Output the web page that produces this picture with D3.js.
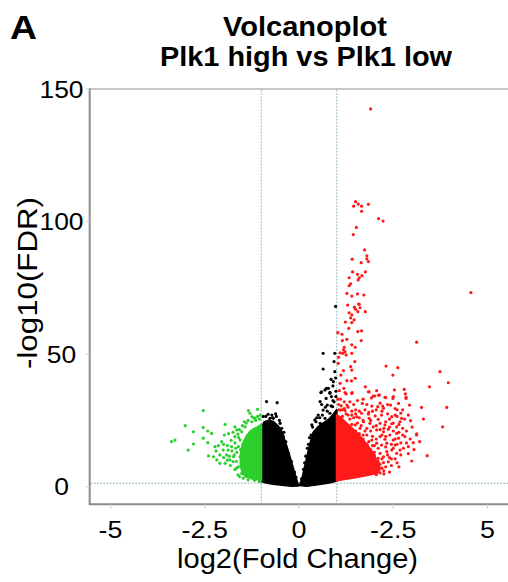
<!DOCTYPE html>
<html>
<head>
<meta charset="utf-8">
<script src="https://cdn.jsdelivr.net/npm/d3@7/dist/d3.min.js"></script>
<style>
html,body{margin:0;padding:0;background:#fff;}
svg{display:block;}
text{font-family:"Liberation Sans",Arial,Helvetica,sans-serif;fill:#000;}
</style>
</head>
<body>
<div id="chart"></div>
<script>
// ---------- DATA ----------
const panelLabel = "A";
const titleLines = ["Volcanoplot", "Plk1 high vs Plk1 low"];
const xAxisTitle = "log2(Fold Change)";
const yAxisTitle = "-log10(FDR)";
const xTicks = [-5, -2.5, 0, 2.5, 5];
const xTickLabels = ["-5", "-2.5", "0", "-2.5", "5"];
const yTicks = [0, 50, 100, 150];
const yTickLabels = ["0", "50", "100", "150"];
const fcCutoffs = [-1, 1];
const fdrCutoff = 1.3;

// dense (saturated) regions of the point cloud, as [log2FC, -log10FDR] outlines
const blackCoreLeft = [[-1.0,2.0],[-1.0,22],[-0.93,24.3],[-0.8,25],[-0.68,24.5],[-0.55,22.8],[-0.45,20.5],[-0.3,14],[-0.15,6.8],[-0.05,1.8],[-0.01,0.4],[-0.2,0.3],[-0.45,0.6],[-0.7,1.0],[-0.9,1.6]];
const blackCoreRight = [[0.02,0.5],[0.1,4],[0.2,10.5],[0.3,16.5],[0.38,20.5],[0.5,22.5],[0.65,24],[0.8,25.5],[0.92,27.5],[1.0,29],[1.0,2.2],[0.8,1.5],[0.5,0.8],[0.2,0.3]];
const greenCore = [[-1.0,2.3],[-1.0,23.5],[-1.1,22.5],[-1.2,21.8],[-1.3,20.8],[-1.4,19],[-1.5,16],[-1.55,12],[-1.55,8],[-1.5,5],[-1.4,3.8],[-1.25,3.2],[-1.1,2.7]];
const redCore = [[1.0,2.3],[1.0,27],[1.1,26.2],[1.2,24.8],[1.35,22.8],[1.5,20.8],[1.65,18.5],[1.8,16],[1.95,13],[2.08,9.5],[2.15,6.8],[2.08,5.2],[1.9,4.6],[1.7,4],[1.45,3.4],[1.2,2.8]];

// individually visible genes [log2FC, -log10FDR]
const redPoints = [
[1.90,142.5],[1.50,107.5],[1.57,106.6],[1.45,105.8],[1.66,105.8],[1.84,106.5],[1.66,103.9],[2.11,101.1],[2.23,100.2],
[1.52,97.8],[1.44,95.1],[1.74,89.3],[1.80,87.1],[1.41,85.8],[1.65,84.5],[1.80,85.9],[1.84,84.9],[1.42,81],[1.55,80.1],
[1.76,81],[1.67,79.6],[1.33,78.8],[1.60,78.8],[1.57,78],[1.37,76.5],[1.33,75.8],[1.27,72.9],[1.40,71.9],[1.55,72.7],
[1.72,72.3],[4.56,73.2],[1.29,68.5],[1.47,67.7],[1.60,68.8],[1.62,67.5],[1.58,68.9],[1.50,66.9],[1.56,66],[1.76,66],
[1.33,65.6],[1.40,64.8],[1.37,63.7],[1.46,62.9],[1.23,62.1],[1.40,61.9],[1.32,59.7],[1.56,58.5],[1.66,58.8],[1.03,58.1],
[1.14,57.5],[1.27,55.6],[1.15,55.1],[1.65,55.1],[1.40,53.5],[1.49,52.6],[1.20,52.6],[1.18,51.6],[1.22,50.9],[1.16,50.3],
[1.25,49.7],[1.40,50.3],[1.09,50.5],[1.05,48.8],[1.04,46.5],[1.37,45.3],[1.40,44],[1.48,47.2],[1.18,43.8],[1.11,42.1],
[1.49,40.9],[1.27,40],[1.39,39.9],[1.09,39],[1.19,37.1],[1.07,36.2],[1.40,35.2],[1.25,35],[1.76,37.7],[1.86,35.8],
[2.01,34.2],[1.92,33.5],[2.06,36.2],[2.11,34.5],[2.31,45.5],[2.62,44.9],[2.49,42.1],[2.53,36.5],[2.79,36.7],[2.82,35],
[2.84,33.7],[2.30,33.6],[2.49,33.3],[3.12,54.5],[3.46,37.7],[3.74,43.4],[3.96,39.2],
[1.22,35.5],[1.41,35.5],[1.84,35.8],[1.97,34.2],[2.13,34.6],[2.28,33.7],[2.50,34],[2.84,33.3],[1.68,31.4],[1.93,30.4],
[2.09,30.2],[2.22,30.4],[2.24,29.6],[2.43,30.8],[2.64,31.4],[2.93,30.8],[3.25,29.9],[3.92,29.9],[1.27,30.8],[1.09,28.9],
[1.22,28.7],[1.40,27],[1.53,26.4],[1.66,27.7],[1.84,27.4],[1.86,25.8],[2.02,26.7],[2.10,25.4],[2.19,27],[2.46,26.4],
[2.55,27],[2.70,27.7],[2.72,25.8],[2.68,24.5],[2.96,24.9],[3.81,22.6],[1.71,24.5],[1.88,23.9],[1.97,22.6],[2.15,23.9],
[2.28,23.3],[2.46,23.7],[2.59,22.6],[1.80,22],[1.49,23.3],[1.62,22],[2.06,21.4],[2.24,20.7],[2.37,21.7],[2.41,19.5],
[2.59,20.1],[2.50,17.6],[2.64,18.3],[2.81,18.9],[3.12,19.9],[3.03,16.6],[2.90,15.1],[2.77,14.5],[2.15,18.9],[2.28,17.9],
[2.33,16.4],[2.19,15.7],[2.06,16.4],[1.93,17.6],[2.55,15.7],[2.68,13.8],[2.59,12.6],[2.46,13.8],[2.33,13.2],[2.24,11.3],
[2.15,12.6],[2.10,10.7],[2.37,9.4],[2.24,9.1],[2.99,9.7],[3.40,11.7],[1.97,9.4],[2.06,7.8],[1.93,6.9],[1.80,6.3],
[1.71,5],[1.84,8.2],[3.12,19.5],
[1.6,20],[1.7,18],[1.8,16],[1.9,14],[2.0,13],[2.1,14.5],[1.75,21],[1.95,19],[2.2,19.5],[2.3,15],[2.4,11],[2.0,10.5],
[2.15,8.5],[1.55,24],[1.65,23],[1.35,25.5],[1.45,26],[1.25,27.5],[1.15,29],[1.05,31],[1.1,33],[1.2,32],[1.3,30],[1.5,29],
[1.6,28.5],[1.75,29],[1.85,28],[1.9,25],[2.3,24.5],[2.5,21],[2.65,20.5],[2.75,22],[2.85,21],[2.7,16.5],[2.55,18],
[2.45,10.5],[2.6,9],[2.05,4.5],[2.1,6],[2.2,7],[2.15,5.2],[1.7,19.5],[1.85,17],[2.0,15.5],[1.5,21],[1.4,23.5],
[2.2,28.5],[2.35,27.5],[2.6,29],[2.4,25.5],[2.25,22],[2.5,24],[2.65,23.5],[2.8,25.5],[2.9,27],[3.0,22.5],[2.95,18],
[3.05,14],[2.85,16.5],[2.7,12],[2.5,14.5],[2.35,12],[2.55,10.5],[2.3,7.5],[2.45,8],[2.25,6],[2.1,9.5],[2.0,11.8],
[1.95,15.5],[2.05,18],[2.15,21.5],[2.05,23],[1.9,21],[1.8,19.5],[1.7,25],[1.6,26],[1.5,27.5],[1.4,28.5],[1.3,27],
[1.2,29.5],[1.12,30.5],[1.03,33],[1.06,29],[1.15,26.5],[1.35,32],[1.45,31],[1.55,32.5],[1.7,33],[1.8,31],[1.95,28.5],
[2.05,29],[2.15,31.5],[2.35,31],[2.55,29.5],[2.75,29],[2.6,26.5],[2.4,22.5],[2.3,19],[2.45,16],[2.6,16],[2.75,19.5],
[3.2,17],[3.3,25.5],[2.9,12.5],[2.65,7.5],[2.4,5.5],[2.25,4.8],[2.2,10.5],[1.85,12.5],[1.75,13.8],[1.62,17],[1.55,19]
];
const greenPoints = [
[-3.38,17],[-3.29,17.6],[-3.02,23],[-2.80,20.7],[-2.94,13.8],[-2.80,16.1],[-2.54,28.7],[-2.54,22.3],[-2.42,21],[-2.54,18.3],
[-2.42,16.6],[-2.32,20.1],[-1.96,23.5],[-2.23,15.1],[-2.40,11.6],[-2.14,15.5],[-2.01,13.8],[-2.10,12],[-2.27,11.3],[-2.18,10.1],
[-1.92,12],[-1.88,13.8],[-1.79,15.1],[-1.96,8.8],[-1.83,10.1],[-1.74,11.3],[-2.10,8.8],[-1.70,22.6],[-1.65,21.4],[-1.70,18.9],
[-1.34,28.7],[-1.30,27.7],[-1.25,26.4],[-1.10,29.2],[-1.17,25.8],[-1.03,27],[-1.43,22.6],[-1.52,20.7],[-1.56,17.6],[-1.61,15.1],
[-1.56,11.3],[-1.61,7.5],[-1.52,5],[-1.39,3.8],[-1.25,3.2],
[-1.6,18.5],[-1.7,16.5],[-1.8,17.5],[-1.65,13],[-1.75,9.5],[-1.7,6.5],[-1.62,4.5],[-1.85,11.5],[-1.9,15.5],[-1.45,24.5],
[-1.35,25],[-1.2,26],[-1.1,26.5],[-1.05,25.5],[-1.5,23],[-2.05,17],[-2.2,13.5],[-1.98,19.5],[-1.66,9.5],[-1.05,2.0],
[-1.58,21.5],[-1.62,19.8],[-1.68,14.5],[-1.72,12],[-1.66,7],[-1.58,3.8],[-1.48,3.2],[-1.35,2.6],[-1.18,2.4],[-1.4,24],
[-1.25,24.5],[-1.15,25],[-1.55,14],[-1.78,13.5],[-1.82,8],[-1.9,10],[-2.0,11],[-2.0,16],[-1.87,20],[-1.75,20.5]
];
const blackPoints = [
[-0.86,32.1],[-0.58,31.7],[0.64,50.3],[0.64,44.4],[0.97,68],[0.95,50.3],[0.93,47.2],[0.91,39.6],[0.60,35.8],[0.73,37.1],
[0.82,35.6],[-0.68,25.8],[-0.50,23.9],[0.58,35.5],[0.69,36.5],[0.78,37.1],[0.82,35.2],[0.56,32.1],[0.72,33.3],[0.86,34],
[0.75,30.8],[0.89,30.2],[0.64,28.9],[0.51,27],[0.82,27.7],[0.42,25.2],[0.69,25.8],[0.56,23.9],[0.34,23.3],[-0.77,25.8],
[-0.64,23],[-0.90,23.9],[-0.46,22],[0.95,43.4],[0.98,36],[0.9,32.5],[0.7,30],[0.6,31],[0.47,26],[0.97,25.5],
[-0.95,26.5],[-0.72,27],[-0.6,26.5],[-0.4,20.5],[0.25,16],[0.32,19.5],[0.15,9],
[-0.98,23],[-0.88,26.5],[-0.82,27.3],[-0.7,26],[-0.62,27.5],[-0.52,25],[-0.42,19],[-0.35,17],[-0.28,12.5],[-0.2,9.5],
[-0.12,5.5],[-0.08,3.5],[0.07,3],[0.12,6.5],[0.18,11.5],[0.22,14.5],[0.28,18.5],[0.36,22.5],[0.45,24.5],[0.55,26],
[0.62,27],[0.75,28.5],[0.85,30.5],[0.93,32],[0.98,34],[0.9,38],[0.85,40.5],[0.97,41]
];

// ---------- LAYOUT ----------
const W = 508, H = 582;
const plotLeft = 89.7, plotTop = 89, plotBottom = 504.3, plotRight = 520;
const svg = d3.select("#chart").append("svg").attr("width", W).attr("height", H);

const x = d3.scaleLinear().domain([-5.552, 5.862]).range([plotLeft, plotRight]);
const y = d3.scaleLinear().domain([0, 150]).range([486.7, plotTop]);

const axisGrey = "#8c8c8c";
const cutColor = "#a6c2c2";

// frame: top border (light)
svg.append("line").attr("x1", plotLeft).attr("x2", plotRight).attr("y1", plotTop).attr("y2", plotTop)
  .attr("stroke", "#b4b4b4").attr("stroke-width", 1.6);

// cutoff lines
const g = svg.append("g");
g.selectAll("line.vcut").data(fcCutoffs).join("line").attr("class", "vcut")
  .attr("x1", d => x(d)).attr("x2", d => x(d)).attr("y1", plotTop + 1).attr("y2", plotBottom - 1)
  .attr("stroke", cutColor).attr("stroke-width", 1.4).attr("stroke-dasharray", "1.6,1.6");
g.append("line").attr("x1", plotLeft + 1).attr("x2", plotRight).attr("y1", y(fdrCutoff)).attr("y2", y(fdrCutoff))
  .attr("stroke", cutColor).attr("stroke-width", 1.4).attr("stroke-dasharray", "1.6,1.6");

// dense cores
const line = d3.line().x(d => x(d[0])).y(d => y(d[1])).curve(d3.curveLinearClosed);
function core(data, color) {
  svg.append("path").attr("d", line(data)).attr("fill", color).attr("stroke", color)
    .attr("stroke-width", 2).attr("stroke-linejoin", "round");
}
function dots(data, color) {
  svg.append("g").selectAll("circle").data(data).join("circle")
    .attr("cx", d => x(d[0])).attr("cy", d => y(d[1])).attr("r", 1.6).attr("fill", color);
}
const black = "#000000", green = "#2ccf2c", red = "#ff1a1a";
core(blackCoreLeft, black);
core(blackCoreRight, black);
dots(blackPoints, black);
core(greenCore, green);
dots(greenPoints, green);
core(redCore, red);
dots(redPoints, red);

// axes lines (drawn over points)
svg.append("line").attr("x1", plotLeft).attr("x2", plotLeft).attr("y1", plotTop - 0.8).attr("y2", plotBottom)
  .attr("stroke", axisGrey).attr("stroke-width", 2);
svg.append("line").attr("x1", plotLeft - 1).attr("x2", plotRight).attr("y1", plotBottom).attr("y2", plotBottom)
  .attr("stroke", axisGrey).attr("stroke-width", 2);

// ticks
svg.append("g").selectAll("line").data(yTicks).join("line")
  .attr("x1", plotLeft - 4).attr("x2", plotLeft).attr("y1", d => y(d)).attr("y2", d => y(d))
  .attr("stroke", "#c8c8c8").attr("stroke-width", 1);
svg.append("g").selectAll("line").data(xTicks).join("line")
  .attr("x1", d => x(d)).attr("x2", d => x(d)).attr("y1", plotBottom).attr("y2", plotBottom + 4)
  .attr("stroke", "#c8c8c8").attr("stroke-width", 1);

// labels (slightly wide glyphs as in the reference)
function label(tx, ty, str, size, opts = {}) {
  const t = svg.append("text")
    .attr("transform", `translate(${tx},${ty}) scale(${opts.sx || 1},1)`)
    .attr("text-anchor", opts.anchor || "middle")
    .attr("font-size", size)
    .attr("font-weight", opts.bold ? "bold" : "normal")
    .text(str);
  if (opts.len) t.attr("textLength", opts.len).attr("lengthAdjust", "spacingAndGlyphs");
  return t;
}
yTicks.forEach((v, i) => label(61.5, y(v) + 8.6, yTickLabels[i], 24, {sx: 1.1}));
xTicks.forEach((v, i) => label(x(v), 538, xTickLabels[i], 24, {sx: 1.12}));

// axis titles
label(297.5, 568, xAxisTitle, 27, {len: 241});
svg.append("text")
  .attr("transform", `translate(37,283) rotate(-90)`)
  .attr("text-anchor", "middle").attr("font-size", 27)
  .attr("textLength", 172).attr("lengthAdjust", "spacingAndGlyphs")
  .text(yAxisTitle);

// titles
label(305, 36, titleLines[0], 27, {bold: true, len: 164});
label(306, 66, titleLines[1], 27, {bold: true, len: 292});
svg.append("text").attr("x", 10).attr("y", 39).attr("font-size", 33).attr("font-weight", "bold")
  .attr("textLength", 27).attr("lengthAdjust", "spacingAndGlyphs").text(panelLabel);
</script>
</body>
</html>
